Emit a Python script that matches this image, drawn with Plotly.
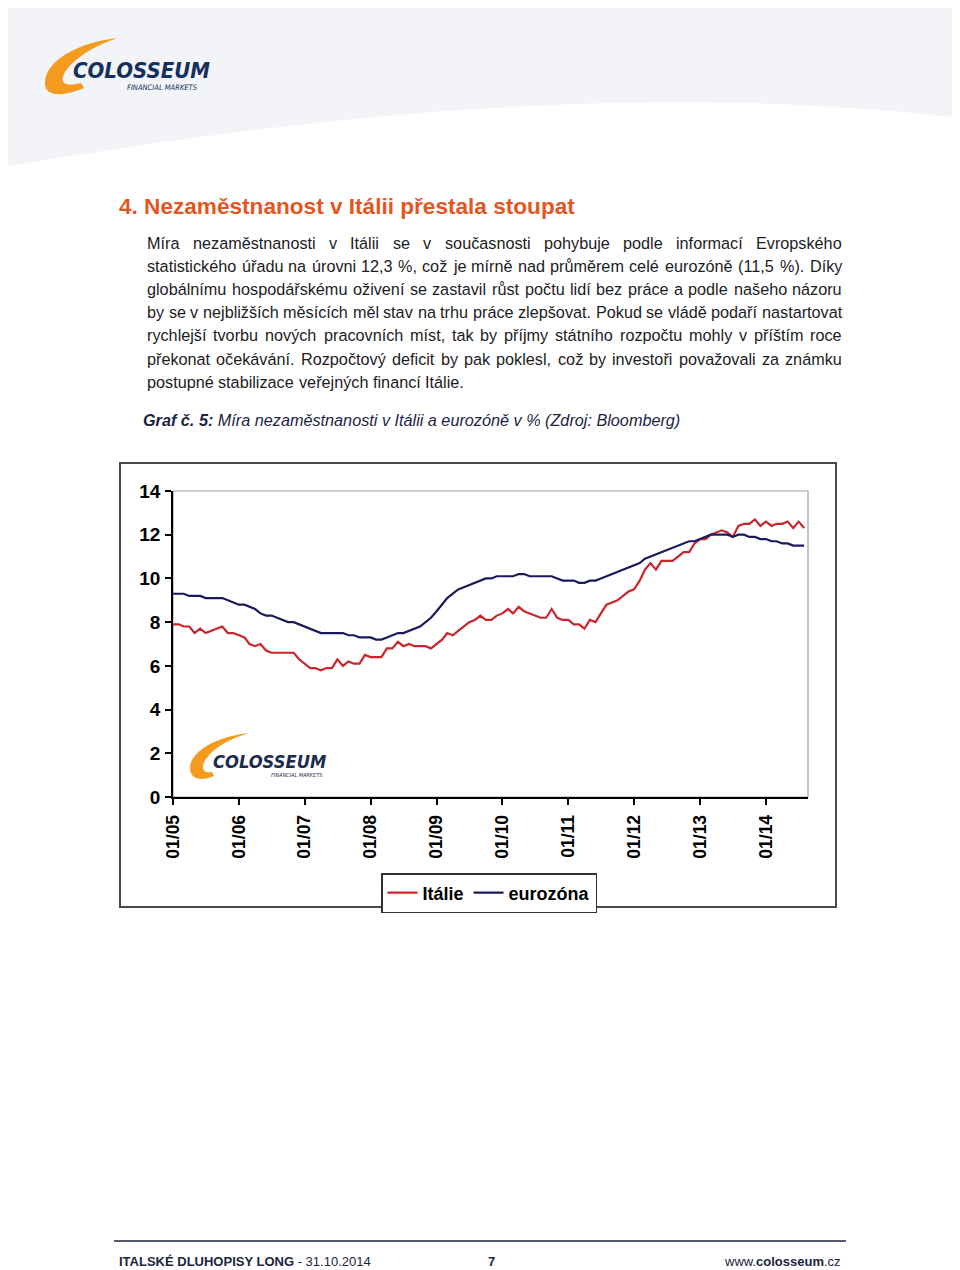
import unicodedata
import pandas as pd
import plotly.graph_objects as go

# Míra nezaměstnanosti (%), měsíčně od 01/2005
italie = [
    7.9, 7.9, 7.8, 7.8, 7.5, 7.7, 7.5, 7.6, 7.7, 7.8, 7.5, 7.5,
    7.4, 7.3, 7.0, 6.9, 7.0, 6.7, 6.6, 6.6, 6.6, 6.6, 6.6, 6.3,
    6.1, 5.9, 5.9, 5.8, 5.9, 5.9, 6.3, 6.0, 6.2, 6.1, 6.1, 6.5,
    6.4, 6.4, 6.4, 6.8, 6.8, 7.1, 6.9, 7.0, 6.9, 6.9, 6.9, 6.8,
    7.0, 7.2, 7.5, 7.4, 7.6, 7.8, 8.0, 8.1, 8.3, 8.1, 8.1, 8.3,
    8.4, 8.6, 8.4, 8.7, 8.5, 8.4, 8.3, 8.2, 8.2, 8.6, 8.2, 8.1,
    8.1, 7.9, 7.9, 7.7, 8.1, 8.0, 8.4, 8.8, 8.9, 9.0, 9.2, 9.4,
    9.5, 9.9, 10.4, 10.7, 10.4, 10.8, 10.8, 10.8, 11.0, 11.2, 11.2, 11.6,
    11.8, 11.8, 12.0, 12.1, 12.2, 12.1, 11.9, 12.4, 12.5, 12.5, 12.7, 12.4,
    12.6, 12.4, 12.5, 12.5, 12.6, 12.3, 12.6, 12.3,
]
eurozona = [
    9.3, 9.3, 9.3, 9.2, 9.2, 9.2, 9.1, 9.1, 9.1, 9.1, 9.0, 8.9,
    8.8, 8.8, 8.7, 8.6, 8.4, 8.3, 8.3, 8.2, 8.1, 8.0, 8.0, 7.9,
    7.8, 7.7, 7.6, 7.5, 7.5, 7.5, 7.5, 7.5, 7.4, 7.4, 7.3, 7.3,
    7.3, 7.2, 7.2, 7.3, 7.4, 7.5, 7.5, 7.6, 7.7, 7.8, 8.0, 8.2,
    8.5, 8.8, 9.1, 9.3, 9.5, 9.6, 9.7, 9.8, 9.9, 10.0, 10.0, 10.1,
    10.1, 10.1, 10.1, 10.2, 10.2, 10.1, 10.1, 10.1, 10.1, 10.1, 10.0, 9.9,
    9.9, 9.9, 9.8, 9.8, 9.9, 9.9, 10.0, 10.1, 10.2, 10.3, 10.4, 10.5,
    10.6, 10.7, 10.9, 11.0, 11.1, 11.2, 11.3, 11.4, 11.5, 11.6, 11.7, 11.7,
    11.8, 11.9, 12.0, 12.0, 12.0, 12.0, 11.9, 12.0, 12.0, 11.9, 11.9, 11.8,
    11.8, 11.7, 11.7, 11.6, 11.6, 11.5, 11.5, 11.5,
]
mesice = pd.date_range("2005-01-01", periods=len(italie), freq="MS")

tick_roky = pd.date_range("2005-01-01", "2014-01-01", freq="YS")
tick_text = [d.strftime("%m/%y") for d in tick_roky]

nadpis = "4. Nezaměstnanost v Itálii přestala stoupat"
odstavec = [
    "Míra nezaměstnanosti v Itálii se v současnosti pohybuje podle informací Evropského",
    "statistického úřadu na úrovni 12,3 %, což je mírně nad průměrem celé eurozóně (11,5 %). Díky",
    "globálnímu hospodářskému oživení se zastavil růst počtu lidí bez práce a podle našeho názoru",
    "by se v nejbližších měsících měl stav na trhu práce zlepšovat. Pokud se vládě podaří nastartovat",
    "rychlejší tvorbu nových pracovních míst, tak by příjmy státního rozpočtu mohly v příštím roce",
    "překonat očekávání. Rozpočtový deficit by pak poklesl, což by investoři považovali za známku",
    "postupné stabilizace veřejných financí Itálie.",
]

RED = "#c8262c"
NAVY = "#1a1a5c"
TEXT = "#1c1c24"
ORANGE = "#f39a1f"
FONT = "Liberation Sans, Arial, sans-serif"
NARROW = "DejaVu Sans Condensed, Liberation Sans, Arial"

# stranka ma okraj 8 px (body margin), graf je proto o 8 px mensi
OFF = 8
W, H = 960 - OFF, 1270 - OFF


def px(x):
    return (x - OFF) / W


def py(y):
    return 1 - (y - OFF) / H


# sirky znaku Arial / Liberation Sans (1/1000 em) pro zarovnani do bloku
SIRKY = {" ": 278, "a": 556, "b": 556, "c": 500, "d": 556, "e": 556, "f": 278,
         "g": 556, "h": 556, "i": 222, "j": 222, "k": 500, "l": 222, "m": 833,
         "n": 556, "o": 556, "p": 556, "q": 556, "r": 333, "s": 500, "t": 278,
         "u": 556, "v": 500, "w": 722, "x": 500, "y": 500, "z": 500,
         "D": 722, "E": 667, "I": 278, "M": 833, "P": 667, "R": 722,
         ",": 278, ".": 278, "%": 889, "(": 333, ")": 333, "í": 278}
for c in "0123456789":
    SIRKY[c] = 556


def sirka(s):
    total = 0
    for ch in s:
        if ch not in SIRKY:
            ch = unicodedata.normalize("NFD", ch)[0]
        total += SIRKY.get(ch, 556)
    return total


def popisek(text, x, y, size, color, family=FONT, xanchor="left"):
    return dict(text=text, x=px(x), y=py(y), xref="paper", yref="paper",
                xanchor=xanchor, yanchor="middle", showarrow=False, borderpad=0,
                font=dict(family=family, size=size, color=color))


LEFT, RIGHT = 146, 841
fsize = min((RIGHT - LEFT) * 1000 / sirka(r) for r in odstavec[:-1])

fig = go.Figure()
fig.add_trace(go.Scatter(x=mesice, y=italie, mode="lines", name="Itálie",
                         line=dict(color=RED, width=2.2)))
fig.add_trace(go.Scatter(x=mesice, y=eurozona, mode="lines", name="eurozóna",
                         line=dict(color=NAVY, width=2.2)))

annotations = []

# nadpis
annotations.append(popisek("<b>" + nadpis + "</b>", 118, 207, 22.6, "#e2561f"))

# odstavec do bloku - po slovech
for i, radek in enumerate(odstavec):
    yc = 243 + i * 23.1
    slova = radek.split(" ")
    sirky_slov = [sirka(s) * fsize / 1000 for s in slova]
    if i < len(odstavec) - 1 and len(slova) > 1:
        mezera = (RIGHT - LEFT - sum(sirky_slov)) / (len(slova) - 1)
    else:
        mezera = 278 * fsize / 1000
    x = LEFT
    for s, w in zip(slova, sirky_slov):
        annotations.append(popisek(s, x, yc, fsize, TEXT))
        x += w + mezera

# popisek grafu
annotations.append(popisek(
    "<b><i>Graf č. 5:</i></b><i> Míra nezaměstnanosti v Itálii a eurozóně v % (Zdroj: Bloomberg)</i>",
    142, 420, fsize, "#1c2444"))

# logo v zahlavi a vodoznak v grafu
annotations.append(popisek("<b><i>COLOSSEUM</i></b>", 72, 70, 22, "#13305e", NARROW))
annotations.append(popisek("<i>FINANCIAL MARKETS</i>", 199, 88, 7.5, "#13305e", NARROW, "right"))
annotations.append(popisek("<b><i>COLOSSEUM</i></b>", 212, 761, 18.2, "#1e2b50", NARROW))
annotations.append(popisek("<i>FINANCIAL MARKETS</i>", 323, 775, 5.5, "#1e2b50", NARROW, "right"))

# paticka
annotations.append(popisek("<b>ITALSKÉ DLUHOPISY LONG</b> - 31.10.2014", 118, 1261, 13, "#1b2440"))
annotations.append(popisek("<b>7</b>", 491, 1261, 13, "#1b2440", xanchor="center"))
annotations.append(popisek("www.<b>colosseum</b>.cz", 842, 1261, 13, "#1b2440", xanchor="right"))


def swoosh(pts):
    p = ["%f,%f" % (px(x), py(y)) for x, y in pts]
    return ("M %s C %s %s %s C %s %s %s L %s C %s %s %s C %s %s %s Z"
            % tuple(p))


shapes = [
    # sede pozadi zahlavi
    dict(type="path", xref="paper", yref="paper", layer="below",
         path="M %f,%f L %f,%f L %f,%f Q %f,%f %f,%f Z" % (
             px(0), py(0), px(960), py(0), px(960), py(118),
             px(560), py(70), px(0), py(168)),
         fillcolor="#f2f4f7", line=dict(width=0)),
    # ramecek grafu
    dict(type="rect", xref="paper", yref="paper", layer="below",
         x0=px(120), x1=px(836), y0=py(907), y1=py(463),
         line=dict(color="#4a4a4a", width=2), fillcolor="white"),
    # sedy okraj plochy grafu
    dict(type="rect", xref="paper", yref="paper", layer="below",
         x0=px(173), x1=px(808), y0=py(797), y1=py(491),
         line=dict(color="#a0a0a0", width=1.2)),
    # orandzove oblouky loga
    dict(type="path", xref="paper", yref="paper", layer="below",
         path=swoosh([(117, 38), (80, 42), (46, 60), (45, 82), (44, 96), (60, 98), (84, 88),
                      (81, 83), (64, 88), (59, 82), (65, 72), (75, 57), (95, 46), (117, 38)]),
         fillcolor=ORANGE, line=dict(width=0)),
    dict(type="path", xref="paper", yref="paper", layer="below",
         path=swoosh([(250, 733), (216, 736), (190, 752), (190, 768), (190, 779), (201, 782), (214, 776),
                      (212, 772), (203, 774), (200, 767), (206, 759), (215, 746), (232, 738), (250, 733)]),
         fillcolor=ORANGE, line=dict(width=0)),
    # linka paticky
    dict(type="line", xref="paper", yref="paper",
         x0=px(114), x1=px(846), y0=py(1241), y1=py(1241),
         line=dict(color="#1b2440", width=1.5)),
]

fig.update_layout(
    width=W, height=H,
    margin=dict(l=0, r=0, t=0, b=0, pad=0, autoexpand=False),
    paper_bgcolor="white", plot_bgcolor="rgba(0,0,0,0)",
    font=dict(family=FONT, color="black"),
    annotations=annotations,
    shapes=shapes,
    showlegend=True,
    legend=dict(orientation="h", x=px(489), xanchor="center", y=py(873), yanchor="top",
                bgcolor="white", bordercolor="#333333", borderwidth=1.5,
                font=dict(family=FONT, size=18, weight="bold", color="black"),
                itemwidth=30, tracegroupgap=0),
    xaxis=dict(domain=[px(173), px(808)], range=["2005-01-01", "2014-08-22"],
               tickvals=tick_roky, ticktext=tick_text, tickangle=-90,
               ticks="outside", ticklen=6, tickcolor="black", tickwidth=1.5,
               showline=True, linecolor="black", linewidth=1.8,
               showgrid=False, zeroline=False, ticklabelstandoff=3, automargin=False,
               tickfont=dict(family=FONT, size=17.5, weight="bold", color="black")),
    yaxis=dict(domain=[py(797), py(491)], range=[0, 14], dtick=2,
               ticks="outside", ticklen=6, tickcolor="black", tickwidth=1.5,
               showline=True, linecolor="black", linewidth=1.8,
               showgrid=False, zeroline=False, ticklabelstandoff=1, automargin=False,
               tickfont=dict(family=FONT, size=19, weight="bold", color="black")),
)

fig.write_html("out.html")
